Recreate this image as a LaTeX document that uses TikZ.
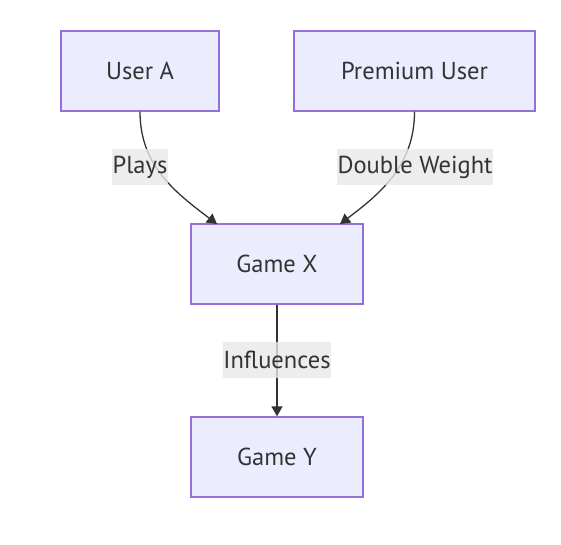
\documentclass[tikz,border=0pt]{standalone}
\usepackage{fontspec}
\setmainfont{PT Sans}
\usetikzlibrary{arrows.meta}
\definecolor{nodefill}{HTML}{ECECFF}
\definecolor{nodeline}{HTML}{9370DB}
\definecolor{ink}{HTML}{333333}
\definecolor{lblfill}{HTML}{E8E8E8}
\tikzset{
  box/.style={draw=nodeline, fill=nodefill, line width=1.3pt, minimum height=80pt, text=ink, font=\fontsize{24.5}{29}\selectfont, inner sep=0pt},
  lbl/.style={fill=lblfill, fill opacity=0.8, text opacity=1, text=ink, font=\fontsize{24.5}{29}\selectfont, minimum height=36pt, inner xsep=0.5pt, inner ysep=0pt},
  link/.style={draw=ink, line width=1.3pt, -{Triangle[length=10pt,width=11pt]}},
}
\begin{document}
\begin{tikzpicture}[x=1pt,y=-1pt]
\useasboundingbox (0,0) rectangle (561,544);
\node[box, minimum width=158pt] (ua) at (140,71) {User A};
\node[box, minimum width=241pt] (pu) at (414.5,71) {Premium User};
\node[box, minimum width=172pt] (gx) at (277,264) {Game X};
\node[box, minimum width=172pt] (gy) at (277,457) {Game Y};
\coordinate (tx1) at (217,224);
\coordinate (tx2) at (340,224);
\draw[link] (ua.south) to[out=-90,in=143] (tx1);
\draw[link] (pu.south) to[out=-90,in=37] (tx2);
\draw[link] (gx.south) -- (gy.north);
\node[lbl] (l1) at (140,167) {Plays};
\node[lbl] (l2) at (415,167) {Double Weight};
\node[lbl] (l3) at (277,360) {Influences};
\end{tikzpicture}
\end{document}
